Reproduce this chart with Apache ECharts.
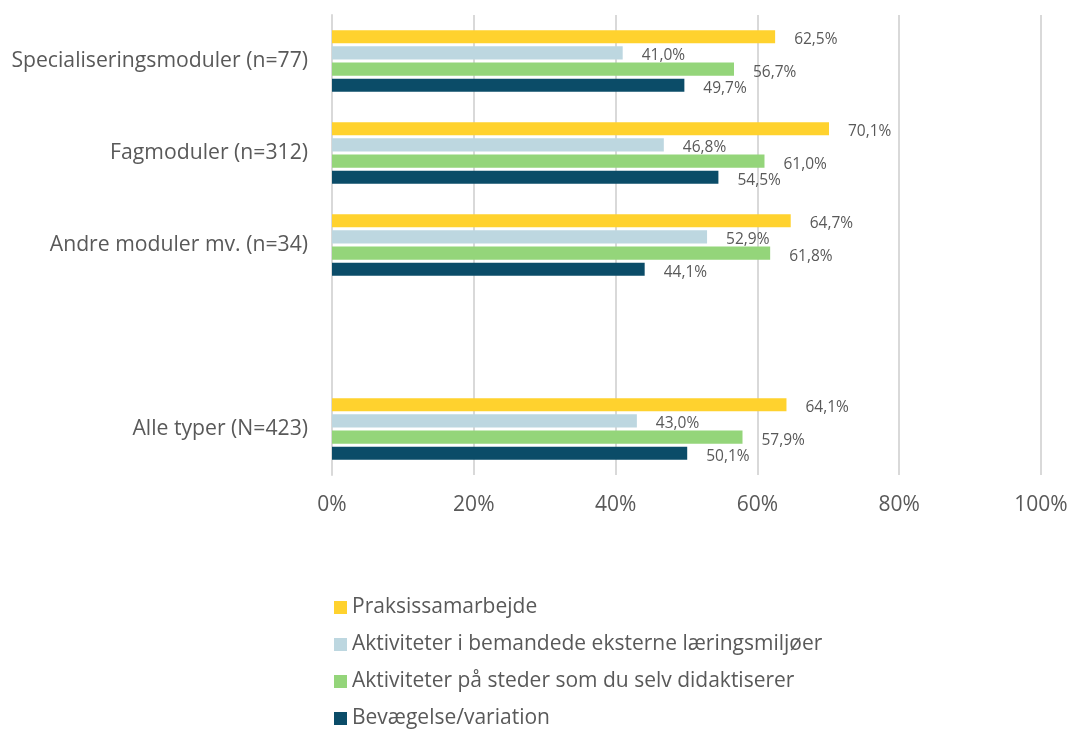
<!DOCTYPE html>
<html>
<head>
<meta charset="utf-8">
<script src="https://cdn.jsdelivr.net/npm/echarts@6/dist/echarts.min.js"></script>
<style>
  html, body { margin: 0; padding: 0; background: #fff; }
  #chart { width: 1081px; height: 729px; }
</style>
</head>
<body>
<div id="chart"></div>
<script>
  // Kategorier (tom kategori giver mellemrummet før "Alle typer")
  const categories = [
    'Specialiseringsmoduler (n=77)',
    'Fagmoduler (n=312)',
    'Andre moduler mv. (n=34)',
    '',
    'Alle typer (N=423)'
  ];
  const seriesNames = [
    'Praksissamarbejde',
    'Aktiviteter i bemandede eksterne læringsmiljøer',
    'Aktiviteter på steder som du selv didaktiserer',
    'Bevægelse/variation'
  ];
  const praksis = [62.5, 70.1, 64.7, null, 64.1];
  const bemandede = [41.0, 46.8, 52.9, null, 43.0];
  const didaktiserer = [56.7, 61.0, 61.8, null, 57.9];
  const bevaegelse = [49.7, 54.5, 44.1, null, 50.1];
  const xTicks = [0, 20, 40, 60, 80, 100];

  const colors = ['#FFD22E', '#BDD7E0', '#94D57A', '#0B4C68'];
  const font = 'Open Sans';

  const chart = echarts.init(document.getElementById('chart'));

  function makeSeries(name, data, i) {
    return {
      name: name,
      type: 'bar',
      data: data,
      barCategoryGap: '33%',
      barGap: '24%',
      itemStyle: { color: colors[i] },
      label: {
        show: true,
        position: 'right',
        distance: 19,
        offset: [0, 3],
        color: '#595959',
        fontFamily: font,
        fontSize: 15.5,
        formatter: p => p.value == null ? '' : p.value.toFixed(1).replace('.', ',') + '%'
      }
    };
  }

  const option = {
    animation: false,
    grid: { left: 332, right: 40, top: 15, bottom: 254, containLabel: false },
    legend: {
      orient: 'vertical',
      left: 334,
      top: 597,
      height: 140,
      padding: 0,
      itemWidth: 13,
      itemHeight: 13,
      itemGap: 16,
      icon: 'rect',
      textStyle: { color: '#595959', fontFamily: font, fontSize: 21, lineHeight: 21 },
      data: seriesNames
    },
    xAxis: {
      type: 'value',
      min: 0,
      max: 100,
      interval: 20,
      axisLine: { show: false },
      axisTick: { show: false },
      axisLabel: {
        color: '#595959',
        fontFamily: font,
        fontSize: 21,
        margin: 20,
        formatter: v => xTicks.includes(v) ? v + '%' : ''
      },
      splitLine: { lineStyle: { color: '#D9D9D9', width: 2 } }
    },
    yAxis: {
      type: 'category',
      inverse: true,
      data: categories,
      axisLine: { show: true, lineStyle: { color: '#D9D9D9', width: 2 } },
      axisTick: { show: false },
      axisLabel: {
        color: '#595959',
        fontFamily: font,
        fontSize: 21.2,
        margin: 24
      }
    },
    series: [
      makeSeries(seriesNames[0], praksis, 0),
      makeSeries(seriesNames[1], bemandede, 1),
      makeSeries(seriesNames[2], didaktiserer, 2),
      makeSeries(seriesNames[3], bevaegelse, 3)
    ]
  };

  chart.setOption(option);
  window.addEventListener('resize', () => chart.resize());
</script>
</body>
</html>
